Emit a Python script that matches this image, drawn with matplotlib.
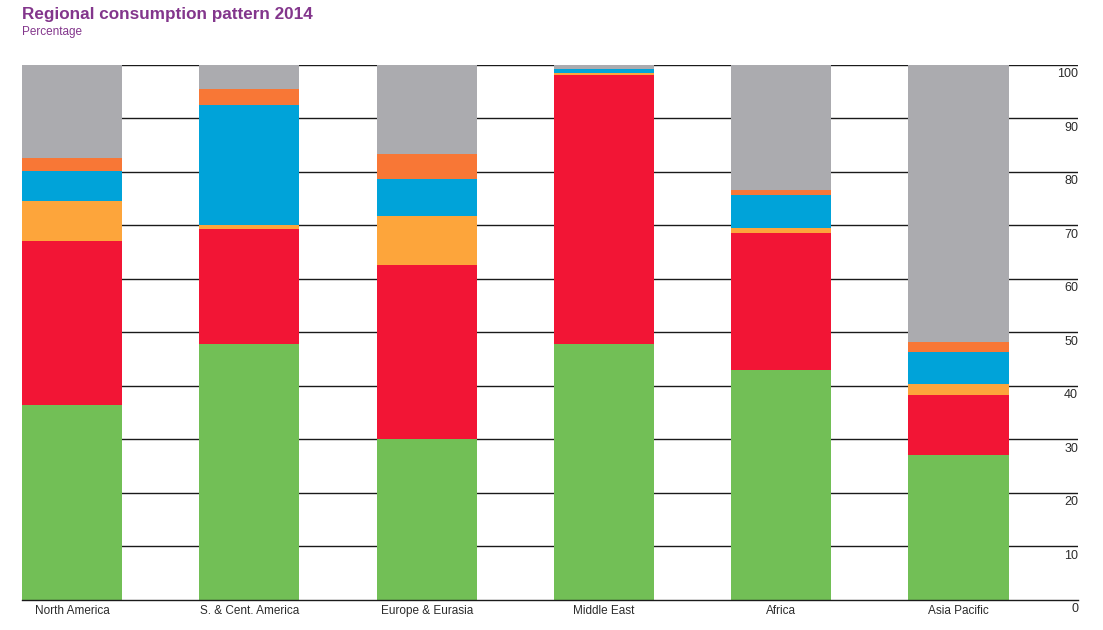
import numpy as np
import matplotlib
matplotlib.use("Agg")
import matplotlib.pyplot as plt
import matplotlib.transforms as mtransforms

plt.rcParams['font.family'] = ['Liberation Sans', 'DejaVu Sans']

regions = ['North America', 'S. & Cent. America', 'Europe & Eurasia',
           'Middle East', 'Africa', 'Asia Pacific']

# percentage shares per region, bottom to top
oil         = [36.4, 47.8, 30.0, 47.8, 42.9, 27.1]
natural_gas = [30.6, 21.4, 32.5, 50.3, 25.6, 11.1]
nuclear     = [7.6, 0.8, 9.3, 0.4, 0.9, 2.1]
hydro       = [5.6, 22.4, 6.9, 0.6, 6.3, 6.0]
renewables  = [2.4, 3.1, 4.5, 0.1, 0.8, 1.8]
coal        = [17.4, 4.5, 16.8, 0.8, 23.5, 51.9]

series = [oil, natural_gas, nuclear, hydro, renewables, coal]
colours = ['#72bf56', '#f21535', '#fda53b', '#00a3d9', '#f87736', '#ababaf']

fig = plt.figure(figsize=(11.03, 6.30), dpi=100)
ax = fig.add_axes([22/1103, 1 - 600/630, (1078 - 22)/1103, (600 - 64.5)/630])

x = np.arange(len(regions))
bottom = np.zeros(len(regions))
for vals, col in zip(series, colours):
    ax.bar(x, vals, width=0.565, bottom=bottom, color=col, linewidth=0, zorder=2)
    bottom += np.array(vals)

ax.set_xlim(-0.2825, 5.674)
ax.set_ylim(0, 100)

ticks = np.arange(0, 101, 10)
for t in ticks:
    # baseline stays on top of the bars, the rest sit behind them
    if t == 0:
        ax.axhline(t, color='#1a1a1a', linewidth=1.0, zorder=3, clip_on=False)
    else:
        ax.axhline(t, color='#1a1a1a', linewidth=1.0, zorder=1)

# right hand labels sit just under each line
off = mtransforms.ScaledTranslation(0, -9.5/100, fig.dpi_scale_trans)
for t in ticks:
    ax.text(1.0, t, str(t), transform=ax.get_yaxis_transform() + off,
            ha='right', va='center', fontsize=9, color='#2b2b2b')

ax.set_yticks([])
ax.set_xticks(x)
ax.set_xticklabels(regions, fontsize=8.5, color='#2b2b2b')
ax.tick_params(axis='x', length=0, pad=3.5)
for s in ax.spines.values():
    s.set_visible(False)

fig.text(22/1103, 1 - 15/630, 'Regional consumption pattern 2014', fontsize=12.3,
         fontweight='bold', color='#83368c', va='center', ha='left')
fig.text(22/1103, 1 - 32/630, 'Percentage', fontsize=8.5, color='#83368c',
         va='center', ha='left')

fig.savefig('out.png', dpi=100)
